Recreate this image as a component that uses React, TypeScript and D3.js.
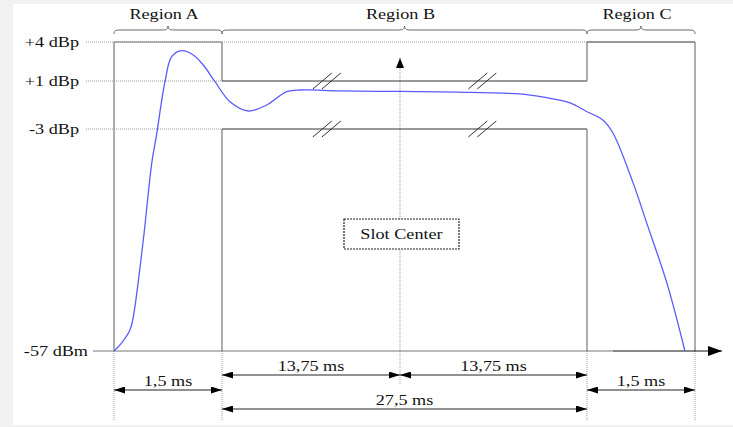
import React, {useEffect} from 'react';
import * as d3 from 'd3';

// level ticks on the left
const levelLabels = ["+4 dBp", "+1 dBp", "-3 dBp", "-57 dBm"];
const levelValues = [4, 1, -3, -57];

// time axis is broken: region A / B halves / region C
const timeBreaks = [0, 1.5, 15.25, 29, 30.5];

const regionNames = ["Region A", "Region B", "Region C"];
const regionFrom = [0, 1.5, 29];
const regionTo = [1.5, 29, 30.5];

// dimension arrows under the axis
const dimLabels = ["1,5 ms", "13,75 ms", "13,75 ms", "1,5 ms", "27,5 ms"];
const dimFrom = [0, 1.5, 15.25, 29, 1.5];
const dimTo = [1.5, 15.25, 29, 30.5, 29];
const dimRow = [1, 0, 0, 1, 2];

// power/time template (upper and lower mask)
const upperTime = [0, 0, 1.5, 1.5, 29, 29, 30.5, 30.5];
const upperLevel = [-57, 4, 4, 1, 1, 4, 4, -57];
const lowerTime = [1.5, 1.5, 29, 29];
const lowerLevel = [-57, -3, -3, -57];

// break marks "//" on the mask lines
const breakTimes = [9.6, 21.3];

const burstTime = [0, 0.107, 0.222, 0.268, 0.407, 0.524, 0.59, 0.708, 0.801, 0.94, 1.101, 1.24, 1.403, 2.118, 3.53, 4.95, 6.5, 7.6, 10.6, 15.25, 19.44, 24.07, 25.7, 27.75, 29, 29.22, 29.36, 29.64, 29.83, 30.11, 30.36];
const burstLevel = [-57, -55.0, -51.9, -48.7, -30.0, -11.3, -4.5, 0.94, 2.87, 3.33, 3.0, 2.23, 0.94, -0.73, -1.5, -1.0, 0.11, 0.25, 0.17, 0.13, 0.08, -0.08, -0.33, -0.83, -1.56, -2.25, -3.98, -16.1, -25.9, -40.5, -57];

const W = 733;
const H = 427;
const FONT = "'Liberation Serif', 'Times New Roman', serif";
const SX = 1.3; // the source text is stretched sideways

function Label({x, y, anchor, children}: {x: number, y: number, anchor: string, children: string}) {
  return <text transform={`translate(${x},${y}) scale(${SX},1)`} textAnchor={anchor}
               fontFamily={FONT} fontSize={14} fill="#111">{children}</text>;
}

function brace(x0: number, x1: number, yb: number) {
  const m = (x0 + x1) / 2;
  return `M${x0},${yb + 4} C${x0},${yb} ${x0 + 2},${yb} ${x0 + 8},${yb} L${m - 8},${yb} C${m - 3},${yb} ${m},${yb} ${m},${yb - 4}` +
    ` C${m},${yb} ${m + 3},${yb} ${m + 8},${yb} L${x1 - 8},${yb} C${x1 - 2},${yb} ${x1},${yb} ${x1},${yb + 4}`;
}

export default function App() {
  useEffect(() => {
    document.body.style.margin = "0";
  }, []);

  const x = d3.scaleLinear().domain(timeBreaks).range([114, 222, 400, 587, 695]);
  const y = d3.scaleLinear().domain([-57, -3, 1, 4]).range([351, 129, 81, 42]);

  const y0 = y(-57);
  const rowY = [375, 390, 409];

  const line = d3.line<number>()
    .x(i => x(burstTime[i]))
    .y(i => y(burstLevel[i]))
    .curve(d3.curveCatmullRom.alpha(0.5));

  // mask split into segments so verticals can be lighter
  const segs: {x1: number, y1: number, x2: number, y2: number}[] = [];
  const addSegs = (ts: number[], ls: number[]) => {
    for (let i = 1; i < ts.length; i++) {
      segs.push({x1: x(ts[i - 1]), y1: y(ls[i - 1]), x2: x(ts[i]), y2: y(ls[i])});
    }
  };
  addSegs(upperTime, upperLevel);
  addSegs(lowerTime, lowerLevel);

  return (
    <svg width={W} height={H} style={{display: "block", position: "absolute", left: 0, top: 0}}>
      <defs>
        <marker id="ah" viewBox="0 0 11 7" refX={11} refY={3.5} markerWidth={11} markerHeight={7}
                markerUnits="userSpaceOnUse" orient="auto-start-reverse">
          <path d="M0,0 L11,3.5 L0,7 Z" fill="#000"/>
        </marker>
        <marker id="big" viewBox="0 0 14 10" refX={14} refY={5} markerWidth={14} markerHeight={10}
                markerUnits="userSpaceOnUse" orient="auto">
          <path d="M0,0 L14,5 L0,10 Z" fill="#000"/>
        </marker>
        <marker id="up" viewBox="0 0 10 8" refX={10} refY={4} markerWidth={10} markerHeight={8}
                markerUnits="userSpaceOnUse" orient="auto">
          <path d="M0,0 L10,4 L0,8 Z" fill="#000"/>
        </marker>
      </defs>

      <rect x={0} y={0} width={W} height={H} fill="#f1f1f1"/>
      <rect x={13} y={4} width={W - 13} height={421} fill="#fff"/>

      {/* dotted level guides */}
      {levelValues.slice(0, 3).map((v, i) => (
        <line key={"g" + i} x1={86} x2={v === 4 ? x(29) : x(1.5)} y1={y(v)} y2={y(v)}
              stroke="#999" strokeWidth={1} strokeDasharray="1,1"/>
      ))}

      {/* dotted extension lines below axis */}
      {timeBreaks.map((t, i) => (
        <line key={"e" + i} x1={x(t)} x2={x(t)} y1={y0} y2={t === 15.25 ? 384 : 420}
              stroke="#999" strokeWidth={1} strokeDasharray="1,1"/>
      ))}

      {/* slot centre arrow */}
      <line x1={x(15.25)} x2={x(15.25)} y1={y0} y2={y(4) + 16} stroke="#aaa" strokeWidth={1.2}
            strokeDasharray="1,1" markerEnd="url(#up)"/>

      {/* mask */}
      {segs.map((s, i) => (
        <line key={"m" + i} x1={s.x1} y1={s.y1} x2={s.x2} y2={s.y2}
              stroke={s.x1 === s.x2 ? "#8a8a8a" : (s.x1 < x(1.5) ? "#777" : "#333")}
              strokeWidth={s.x1 === s.x2 ? 1.4 : 1.2}/>
      ))}

      {/* break marks */}
      {breakTimes.map((t, i) => [1, -3].map(v => (
        <g key={"b" + i + v} stroke="#333" strokeWidth={1}>
          <line x1={x(t) - 14} y1={y(v) + 8} x2={x(t) + 5} y2={y(v) - 8}/>
          <line x1={x(t) - 5} y1={y(v) + 8} x2={x(t) + 14} y2={y(v) - 8}/>
        </g>
      )))}

      {/* x axis */}
      <line x1={93} x2={613} y1={y0} y2={y0} stroke="#777" strokeWidth={1.2}/>
      <line x1={613} x2={722} y1={y0} y2={y0} stroke="#111" strokeWidth={1.2} markerEnd="url(#big)"/>

      {/* burst */}
      <path d={line(d3.range(burstTime.length)) || ""} fill="none" stroke="#5a5aff" strokeWidth={1.3}/>

      {/* braces + region names */}
      {regionNames.map((r, i) => (
        <g key={"r" + i}>
          <path d={brace(x(regionFrom[i]), x(regionTo[i]), 30)} fill="none" stroke="#666" strokeWidth={1}/>
          <Label x={(x(regionFrom[i]) + x(regionTo[i])) / 2 - 4} y={19} anchor="middle">{r}</Label>
        </g>
      ))}

      {/* level labels */}
      {levelLabels.map((l, i) => (
        <Label key={"l" + i} x={levelValues[i] === -57 ? 88 : 79} y={y(levelValues[i]) + 4.5} anchor="end">{l}</Label>
      ))}

      {/* dimensions */}
      {dimLabels.map((d, i) => (
        <g key={"d" + i}>
          <line x1={x(dimFrom[i])} x2={x(dimTo[i])} y1={rowY[dimRow[i]]} y2={rowY[dimRow[i]]}
                stroke="#222" strokeWidth={1} markerStart="url(#ah)" markerEnd="url(#ah)"/>
          <Label x={(x(dimFrom[i]) + x(dimTo[i])) / 2} y={rowY[dimRow[i]] - 4} anchor="middle">{d}</Label>
        </g>
      ))}

      {/* slot centre box */}
      <rect x={x(15.25) - 56} y={219} width={115} height={30} fill="#fff" stroke="#222"
            strokeWidth={1.2} strokeDasharray="2,1"/>
      <Label x={x(15.25) + 1.5} y={239} anchor="middle">Slot Center</Label>
    </svg>
  );
}
